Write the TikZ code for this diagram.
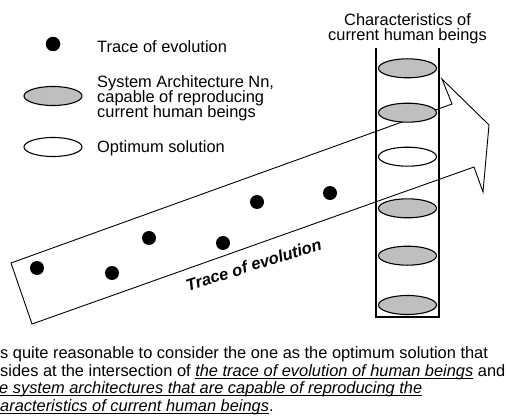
\documentclass[tikz,border=0pt]{standalone}
\usepackage{fontspec}
\setmainfont{Liberation Sans}
\newcommand\myul[1]{\setbox0\hbox{#1}\rlap{\vrule height -1.7pt depth 2.6pt width \wd0}\box0\relax}
\usetikzlibrary{shapes.geometric}
\begin{document}
\begin{tikzpicture}[x=1pt,y=-1pt,line join=miter,
  txt/.style={font=\fontsize{16.4}{15.3}\selectfont, inner sep=0pt},
  dot/.style={circle, fill=black, minimum size=14pt, inner sep=0pt},
  arch/.style={ellipse, draw, line width=1.1pt, fill=black!25, minimum width=58pt, minimum height=19pt, inner sep=0pt},
  opt/.style={arch, fill=white},
  edge/.style={line width=0.9pt},
  col/.style={line width=1.2pt}]
\useasboundingbox (0,0) rectangle (506,417);

% legend
\node[dot, minimum size=14.5pt] (ldot) at (53,44) {};
\node[txt, anchor=base west] (ltrace) at (97,52.3) {Trace of evolution};
\node[arch] (larch) at (53,96) {};
\node[txt, anchor=base west] (larch1) at (97,87.3) {System Architecture Nn,};
\node[txt, anchor=base west] (larch2) at (97,102.5) {capable of reproducing};
\node[txt, anchor=base west] (larch3) at (97,117.8) {current human beings};
\node[opt] (lopt) at (53,147) {};
\node[txt, anchor=base west] (lopttxt) at (97,152.7) {Optimum solution};

% band arrow
\coordinate (bl1) at (11,263);
\coordinate (bl2) at (32,324);
\coordinate (nt) at (452,104);
\coordinate (bt) at (442,79);
\coordinate (tip) at (489,125);
\coordinate (bb) at (483,192);
\coordinate (nb) at (474,167);
\draw[edge] (bl2) -- (bl1) -- (nt) -- (bt) -- (tip) -- (bb) -- (nb) -- cycle;

\node[txt, font=\fontsize{16.4}{15.3}\selectfont\bfseries\itshape, anchor=base west, rotate=17.5] (tlabel) at (188,291.5) {Trace of evolution};

% dots
\node[dot] (d1) at (37,268) {};
\node[dot] (d2) at (112,273) {};
\node[dot] (d3) at (149,238) {};
\node[dot] (d4) at (223,243) {};
\node[dot] (d5) at (257,202) {};
\node[dot] (d6) at (330,193) {};

% column
\coordinate (ctl) at (376,48);
\coordinate (cbl) at (376,317);
\coordinate (cbr) at (439,317);
\coordinate (ctr) at (439,48);
\draw[col] (ctl) -- (cbl) -- (cbr) -- (ctr);
\node[arch] (e1) at (407.5,68.3) {};
\node[arch] (e2) at (407.5,112.7) {};
\node[opt] (e3) at (407.5,156.7) {};
\node[arch] (e4) at (407.5,208.3) {};
\node[arch] (e5) at (407.5,255.7) {};
\node[arch] (e6) at (407.5,305) {};
\node[txt, anchor=base] (ctitle1) at (407.5,25.7) {Characteristics of};
\node[txt, anchor=base] (ctitle2) at (407.5,40.7) {current human beings};

% bottom text
\node[txt, anchor=base west] (b1) at (0,358.5) {s quite reasonable to consider the one as the optimum solution that};
\node[txt, anchor=base west] (b2) at (0,376) {sides at the intersection of \myul{\itshape the trace of evolution of human beings} and};
\node[txt, anchor=base west] (b3) at (-1,393.5) {\myul{\itshape e system architectures that are capable of reproducing the}};
\node[txt, anchor=base west] (b4) at (0,411) {\myul{\itshape aracteristics of current human beings}.};
\end{tikzpicture}
\end{document}
